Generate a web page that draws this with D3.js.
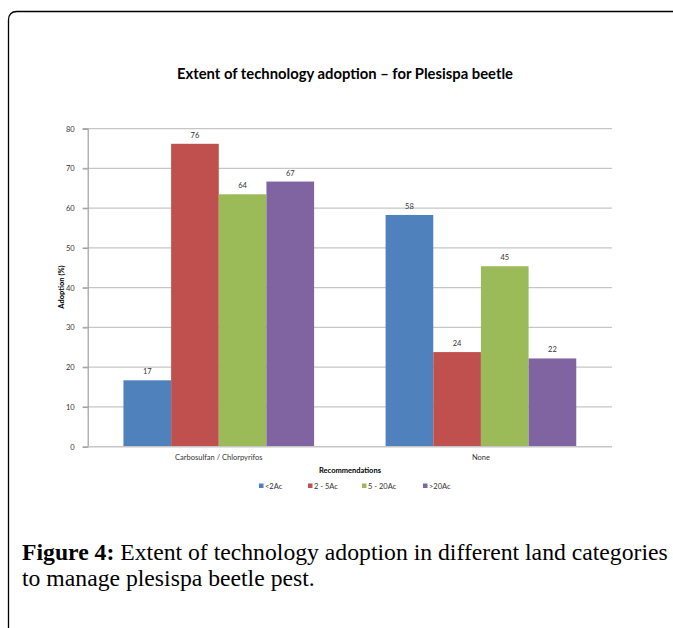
<!DOCTYPE html>
<html>
<head>
<meta charset="utf-8">
<script src="https://cdn.jsdelivr.net/npm/d3@7"></script>
<style>
  html, body { margin: 0; padding: 0; background: #fff; }
  svg { display: block; }
</style>
</head>
<body>
<svg id="chart" width="673" height="628"></svg>
<script>
// Adoption (%) by recommendation and land holding size
const categories = ["Carbosulfan / Chlorpyrifos", "None"];
const seriesNames = ["<2Ac", "2 - 5Ac", "5 - 20Ac", ">20Ac"];
const seriesColors = ["#4f81bd", "#c0504d", "#9bbb59", "#8064a2"];
const lessThan2Ac = [16.7, 58.3];
const from2To5Ac = [76.2, 23.8];
const from5To20Ac = [63.5, 45.4];
const moreThan20Ac = [66.7, 22.2];
const yTicks = [0, 10, 20, 30, 40, 50, 60, 70, 80];

const seriesValues = [lessThan2Ac, from2To5Ac, from5To20Ac, moreThan20Ac];

const svg = d3.select("#chart");

// Outer frame (rounded corner at top-left, running off the page)
svg.append("path")
  .attr("d", "M8.5,640 L8.5,20 Q8.5,11.5 17,11.5 L690,11.5")
  .attr("fill", "none")
  .attr("stroke", "#000")
  .attr("stroke-width", 1.3);

const plot = { left: 87.7, right: 612, top: 128.7, bottom: 446.7 };

const x0 = d3.scaleBand()
  .domain(categories)
  .range([plot.left, plot.right])
  .paddingInner(0)
  .paddingOuter(0);

const x1 = d3.scaleBand()
  .domain(seriesNames)
  .range([0, x0.bandwidth()])
  .paddingInner(0)
  .paddingOuter(0.75);

const y = d3.scaleLinear().domain([0, 80]).range([plot.bottom, plot.top]);

// Chart title
svg.append("text")
  .attr("x", 345)
  .attr("y", 79)
  .attr("text-anchor", "middle")
  .attr("font-family", "Lato, 'Open Sans', sans-serif")
  .attr("font-weight", "bold")
  .attr("font-size", 14.8)
  .attr("fill", "#000")
  .text("Extent of technology adoption \u2013 for Plesispa beetle");

// Gridlines
svg.append("g")
  .selectAll("line")
  .data(yTicks.filter(d => d > 0))
  .join("line")
  .attr("x1", plot.left - 5)
  .attr("x2", plot.right)
  .attr("y1", d => y(d))
  .attr("y2", d => y(d))
  .attr("stroke", "#c6c6c6")
  .attr("stroke-width", 1.2);

// Y axis
const yAxis = d3.axisLeft(y).tickValues(yTicks).tickSize(5).tickPadding(8);
const gy = svg.append("g")
  .attr("transform", `translate(${plot.left},0)`)
  .call(yAxis);
gy.select(".domain").attr("stroke", "#a0a0a0").attr("stroke-width", 1.2);
gy.selectAll(".tick line").attr("stroke", "#a0a0a0").attr("stroke-width", 1.2);
gy.selectAll(".tick text")
  .attr("font-family", "Lato, 'Open Sans', sans-serif")
  .attr("font-size", 7.5)
  .attr("fill", "#333");

// Bars
const groups = svg.append("g")
  .selectAll("g")
  .data(seriesNames.map((name, i) => ({ name, color: seriesColors[i], values: seriesValues[i] })))
  .join("g")
  .attr("fill", d => d.color);

groups.selectAll("rect")
  .data(d => d.values.map((v, j) => ({ name: d.name, cat: categories[j], value: v })))
  .join("rect")
  .attr("x", d => x0(d.cat) + x1(d.name))
  .attr("width", x1.bandwidth())
  .attr("y", d => y(d.value))
  .attr("height", d => y(0) - y(d.value));

// Value labels
groups.selectAll("text")
  .data(d => d.values.map((v, j) => ({ name: d.name, cat: categories[j], value: v })))
  .join("text")
  .attr("x", d => x0(d.cat) + x1(d.name) + x1.bandwidth() / 2)
  .attr("y", d => y(d.value) - 6)
  .attr("text-anchor", "middle")
  .attr("font-family", "Lato, 'Open Sans', sans-serif")
  .attr("font-size", 7.5)
  .attr("fill", "#333")
  .text(d => d3.format(".0f")(d.value));

// X axis baseline
svg.append("line")
  .attr("x1", plot.left)
  .attr("x2", plot.right)
  .attr("y1", y(0))
  .attr("y2", y(0))
  .attr("stroke", "#c6c6c6")
  .attr("stroke-width", 1.5);

// Category labels
svg.append("g")
  .selectAll("text")
  .data(categories)
  .join("text")
  .attr("x", d => x0(d) + x0.bandwidth() / 2)
  .attr("y", 460)
  .attr("text-anchor", "middle")
  .attr("font-family", "Lato, 'Open Sans', sans-serif")
  .attr("font-size", 7.5)
  .attr("fill", "#333")
  .text(d => d);

// Axis titles
svg.append("text")
  .attr("x", 350)
  .attr("y", 473)
  .attr("text-anchor", "middle")
  .attr("font-family", "Lato, 'Open Sans', sans-serif")
  .attr("font-weight", "bold")
  .attr("font-size", 7.5)
  .attr("fill", "#000")
  .text("Recommendations");

svg.append("text")
  .attr("transform", "translate(64,287) rotate(-90)")
  .attr("text-anchor", "middle")
  .attr("font-family", "Lato, 'Open Sans', sans-serif")
  .attr("font-weight", "bold")
  .attr("font-size", 7.5)
  .attr("fill", "#000")
  .text("Adoption (%)");

// Legend
const legendX = [259, 308, 362, 423];
const legend = svg.append("g")
  .selectAll("g")
  .data(seriesNames)
  .join("g")
  .attr("transform", (d, i) => `translate(${legendX[i]},487)`);
legend.append("rect")
  .attr("x", 0).attr("y", -3.5)
  .attr("width", 4.5).attr("height", 4.5)
  .attr("fill", (d, i) => seriesColors[i]);
legend.append("text")
  .attr("x", 6)
  .attr("y", 1.5)
  .attr("font-family", "Lato, 'Open Sans', sans-serif")
  .attr("font-size", 7.5)
  .attr("fill", "#333")
  .text(d => d);

// Figure caption
const caption = svg.append("g")
  .attr("font-family", "'Liberation Serif', 'DejaVu Serif', serif")
  .attr("font-size", 23.7)
  .attr("fill", "#000");
const line1 = caption.append("text").attr("x", 22).attr("y", 560);
line1.append("tspan").attr("font-weight", "bold").text("Figure 4:");
line1.append("tspan").text(" Extent of technology adoption in different land categories");
caption.append("text").attr("x", 22).attr("y", 586)
  .text("to manage plesispa beetle pest.");
</script>
</body>
</html>
